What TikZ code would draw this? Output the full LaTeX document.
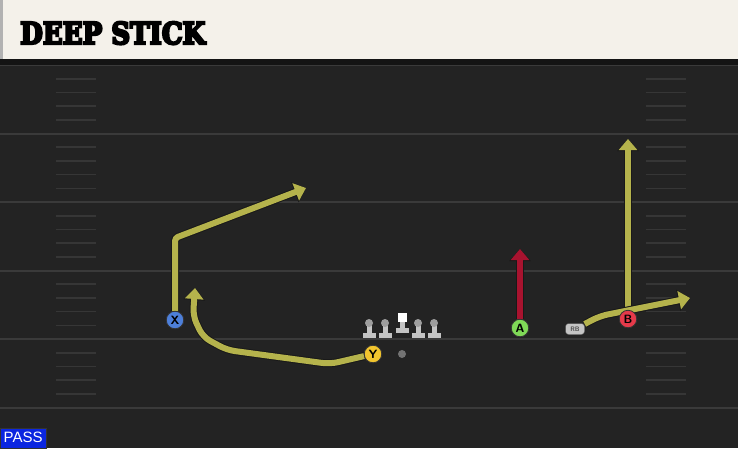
\documentclass[tikz,border=0pt]{standalone}
\usepackage{fontspec}
\setmainfont{Liberation Sans}
\newfontfamily\titlefont{DejaVu Serif}[UprightFont={* Bold}, FakeBold=8]
\usetikzlibrary{arrows.meta}
\definecolor{field}{HTML}{232323}
\definecolor{yardline}{HTML}{3A3A3A}
\definecolor{hashgray}{HTML}{363636}
\definecolor{header}{HTML}{F4F1EA}
\definecolor{routeyellow}{HTML}{B5B34C}
\definecolor{routered}{HTML}{A8132F}
\definecolor{xblue}{HTML}{4D7FD9}
\definecolor{yyellow}{HTML}{F2C52E}
\definecolor{agreen}{HTML}{7FD957}
\definecolor{bred}{HTML}{E63A4A}
\definecolor{linegray}{HTML}{C4C4C4}
\definecolor{passblue}{HTML}{0B26E0}
\pgfdeclarelayer{turf}
\pgfdeclarelayer{routes}
\pgfsetlayers{turf,routes,main}
\tikzset{
  player/.style={circle, draw=black!80, line width=0.8pt, minimum size=17.5pt, inner sep=0pt,
    font=\sffamily\bfseries\fontsize{12}{12}\selectfont},
  route/.style={line width=6pt, line join=round, -{Triangle[length=11pt, width=18pt]},
    preaction={draw=black!90, line width=8pt, -{Triangle[length=12pt, width=21pt]}}},
  hash/.style={hashgray, line width=1.6pt},
}

\begin{document}
\begin{tikzpicture}[x=1pt, y=-1pt]
\useasboundingbox (0,0) rectangle (738,448);
\begin{pgfonlayer}{turf}
% Field
\fill [field] (0,0) rectangle (738,448);
\foreach \k in {0,...,5}
  \draw [yardline, line width=2pt] (0,65+68.5*\k) -- (738,65+68.5*\k);
\foreach \k in {0,...,4}
  \foreach \j in {1,...,4} {
    \draw [hash] (56,65+68.5*\k+13.7*\j) -- (96,65+68.5*\k+13.7*\j);
    \draw [hash] (646,65+68.5*\k+13.7*\j) -- (686,65+68.5*\k+13.7*\j);
  }
% Header
\fill [black!92] (0,0) rectangle (738,65);
\fill [header] (0,0) rectangle (738,59);
\fill [black!30] (0,0) rectangle (3,59);
\end{pgfonlayer}
% Line
\foreach \x/\n in {369/lt,385/lg,418/rg,434/rt} {
  \fill [linegray] (\x-6.5,333) rectangle (\x+6.5,337.5);
  \fill [linegray] (\x-2.5,325) rectangle (\x+2.5,333);
  \node [circle, fill=black!38, minimum size=8pt, inner sep=0pt] (\n) at (\x,323) {};
}
\fill [linegray] (395.5,328) rectangle (408.5,332.5);
\fill [linegray] (399.5,321) rectangle (404.5,328);
\node [fill=white, minimum size=9pt, inner sep=0pt] (c) at (402,317) {};
\node [circle, fill=black!55, minimum size=8pt, inner sep=0pt] (ball) at (402,354) {};
% Players
\node [player, fill=xblue] (X) at (175,320) {X};
\node [player, fill=yyellow] (Y) at (373,354) {Y};
\node [player, fill=agreen] (A) at (520,328) {A};
\node [player, fill=bred] (B) at (628,319) {B};
\node [fill=linegray, draw=black!70, rounded corners=3pt, minimum width=19pt, minimum height=11pt,
  inner sep=0pt, font=\sffamily\bfseries\fontsize{6.5}{6.5}\selectfont, text=black!70] (RB) at (575,329) {RB};
% Routes
\coordinate (xcut) at (175,238);
\coordinate (xend) at (306,188);
\coordinate (ya) at (330,364);
\coordinate (yb) at (227,350);
\coordinate (yc) at (203,337);
\coordinate (yd) at (193,316);
\coordinate (yend) at (195,288);
\coordinate (aend) at (520,249);
\coordinate (bend) at (628,139);
\coordinate (rbcut) at (600,316);
\coordinate (rbend) at (690,298);
\begin{pgfonlayer}{routes}
\draw [route, routeyellow, rounded corners=3pt] (X) -- (xcut) -- (xend);
\draw [route, routeyellow, rounded corners=8pt] (Y) -- (ya) -- (yb) -- (yc) -- (yd) -- (yend);
\draw [route, routered] (A) -- (aend);
\draw [route, routeyellow] (B) -- (bend);
\draw [route, routeyellow, rounded corners=8pt] (RB) -- (rbcut) -- (rbend);
\end{pgfonlayer}
% Labels
\node [anchor=base west, inner sep=0pt, font=\titlefont\fontsize{30}{30}\selectfont] (title) at (20,44)
  {\scalebox{0.87}[1]{DEEP STICK}};
\node [fill=passblue, draw=black!80, anchor=south west, minimum width=46pt, minimum height=20pt, inner sep=0pt,
  text=white, font=\fontsize{15}{15}\selectfont] (play) at (0,448) {PASS};
\end{tikzpicture}
\end{document}
